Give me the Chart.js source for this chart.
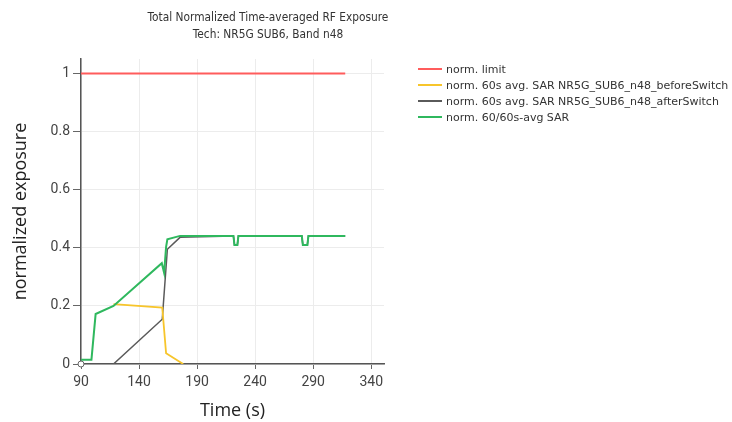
<!DOCTYPE html>
<html>
<head>
<meta charset="utf-8">
<script src="https://cdn.jsdelivr.net/npm/chart.js@4.4.1/dist/chart.umd.min.js"></script>
<style>
  html, body { margin: 0; padding: 0; background: #fff; }
  #wrap { position: relative; width: 732px; height: 422px; }
  #chart { position: absolute; left: 0; top: 0; }
  #title {
    position: absolute; left: 0; top: 9px; width: 536px;
    text-align: center; font-family: "DejaVu Sans Condensed", "DejaVu Sans", sans-serif;
    font-size: 11.8px; line-height: 17px; color: #333;
  }
  #legend {
    position: absolute; left: 418px; top: 61px;
    font-family: "DejaVu Sans", sans-serif; font-size: 11px; color: #333;
  }
  .item { height: 16px; display: flex; align-items: center; white-space: nowrap; }
  .swatch { width: 24px; height: 2px; margin-right: 4px; }
</style>
</head>
<body>
<div id="wrap">
  <canvas id="chart" width="732" height="422"></canvas>
  <div id="title">Total Normalized Time-averaged RF Exposure<br>Tech: NR5G SUB6, Band n48</div>
  <div id="legend"></div>
</div>
<script>
// series values
const limitTime = [90, 317.6];
const limitValue = [1, 1];

const beforeTime = [118, 160, 163.3, 178];
const beforeValue = [0.206, 0.194, 0.037, 0];

const afterTime = [118, 160, 164.4, 175.3, 221.3, 222.2, 224.7, 225.6, 280.2, 281.1, 285, 285.9, 317.6];
const afterValue = [0, 0.154, 0.395, 0.436, 0.441, 0.41, 0.41, 0.441, 0.441, 0.41, 0.41, 0.441, 0.441];

const totalTime = [90, 99, 102.6, 118, 159.6, 161.6, 163.3, 164.4, 175.3, 221.3, 222.2, 224.7, 225.6, 280.2, 281.1, 285, 285.9, 317.6];
const totalValue = [0.015, 0.015, 0.172, 0.2, 0.347, 0.314, 0.403, 0.429, 0.441, 0.441, 0.41, 0.41, 0.441, 0.441, 0.41, 0.41, 0.441, 0.441];

const seriesLabels = [
  "norm. limit",
  "norm. 60s avg. SAR NR5G_SUB6_n48_beforeSwitch",
  "norm. 60s avg. SAR NR5G_SUB6_n48_afterSwitch",
  "norm. 60/60s-avg SAR"
];
const seriesColors = ["#ff5c5c", "#f7c52b", "#5a5a5a", "#2fb85e"];

const xTicks = [90, 140, 190, 240, 290, 340];
const yTicks = [0, 0.2, 0.4, 0.6, 0.8, 1];
const yTickLabels = ["0", "0.2", "0.4", "0.6", "0.8", "1"];

function toPoints(xs, ys) {
  return xs.map((x, i) => ({ x: x, y: ys[i] }));
}

const lineSet = (i, xs, ys, order, width) => ({
  label: seriesLabels[i],
  data: toPoints(xs, ys),
  borderColor: seriesColors[i],
  backgroundColor: seriesColors[i],
  borderWidth: width,
  pointRadius: 0,
  tension: 0,
  order: order
});

const datasets = [
  lineSet(0, limitTime, limitValue, 0, 2),
  lineSet(1, beforeTime, beforeValue, 2, 1.8),
  lineSet(2, afterTime, afterValue, 3, 1.5),
  lineSet(3, totalTime, totalValue, 1, 2),
  {
    // little marker sitting on the origin
    label: "",
    data: toPoints([90], [0]),
    showLine: false,
    clip: false,
    pointRadius: 3,
    pointBorderWidth: 1,
    pointBorderColor: "#666",
    pointBackgroundColor: "#fff",
    order: 0
  }
];

const tickFont = { family: "Roboto, 'Open Sans', sans-serif", size: 14 };
const titleFont = { family: "'Open Sans', Roboto, sans-serif", size: 18 };

new Chart(document.getElementById("chart"), {
  type: "line",
  data: { datasets: datasets },
  options: {
    responsive: false,
    animation: false,
    layout: { padding: { left: 0, right: 348, top: 59, bottom: 0 } },
    plugins: {
      legend: { display: false },
      title: { display: false },
      tooltip: { enabled: false }
    },
    scales: {
      x: {
        type: "linear",
        min: 90,
        max: 351,
        afterBuildTicks: (axis) => { axis.ticks = xTicks.map(v => ({ value: v })); },
        afterFit: (scale) => { scale.height = 58; },
        ticks: { color: "#444", font: tickFont, padding: 5, maxRotation: 0 },
        grid: { color: "#ececec", tickColor: "#666", tickLength: 5 },
        border: { color: "#555", width: 1.5 },
        title: {
          display: true, text: "Time (s)", color: "#222",
          font: titleFont,
          padding: { top: 2, bottom: 0 }
        }
      },
      y: {
        type: "linear",
        min: 0,
        max: 1.05,
        afterBuildTicks: (axis) => { axis.ticks = yTicks.map(v => ({ value: v })); },
        afterFit: (scale) => { scale.width = 81; },
        ticks: {
          color: "#444", font: tickFont, padding: 3,
          callback: (v) => yTickLabels[yTicks.indexOf(v)]
        },
        grid: { color: "#ececec", tickColor: "#666", tickLength: 8 },
        border: { color: "#555", width: 1.5 },
        title: {
          display: true, text: "normalized exposure", color: "#222",
          font: titleFont,
          padding: { top: 10, bottom: 0 }
        }
      }
    }
  }
});

// legend in the top right, built from the same labels and colours
const legendEl = document.getElementById("legend");
seriesLabels.forEach((label, i) => {
  const item = document.createElement("div");
  item.className = "item";
  const sw = document.createElement("span");
  sw.className = "swatch";
  sw.style.background = seriesColors[i];
  const txt = document.createElement("span");
  txt.textContent = label;
  item.appendChild(sw);
  item.appendChild(txt);
  legendEl.appendChild(item);
});
</script>
</body>
</html>
